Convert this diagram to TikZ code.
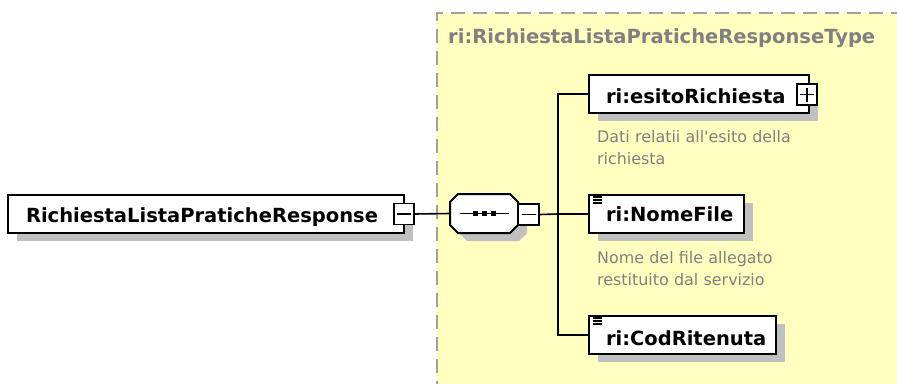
\documentclass[tikz,border=0pt]{standalone}
\usepackage{fontspec}
\setmainfont{DejaVu Sans}
\newfontfamily\descfont{DejaVu Sans}
\usetikzlibrary{shadows}
\definecolor{ylw}{HTML}{FFFFC0}
\definecolor{shd}{HTML}{C0C0C0}
\definecolor{dgray}{HTML}{808080}
\definecolor{bgray}{HTML}{A0A0A0}
\begin{document}
\begin{tikzpicture}[x=1pt,y=-1pt,
  bigfont/.style={font=\bfseries\fontsize{19.5}{23}\selectfont},
  shad/.style={drop shadow={shadow xshift=9pt,shadow yshift=-8pt,fill=shd,opacity=1}},
  elem/.style={draw,line width=2pt,fill=white,anchor=north west,inner ysep=0pt,
    inner xsep=17pt,align=left,bigfont,shad},
  pm/.style={draw,line width=1.6pt,fill=white,minimum width=20pt,minimum height=21pt,inner sep=0pt},
  conn/.style={line width=1.6pt,black},
  desc/.style={anchor=base west,inner sep=0pt,text=dgray,font=\descfont\fontsize{15.9}{22}\selectfont,
    text width=260pt,align=left},
  icon/.style={line width=1.2pt,black}
]
\useasboundingbox (0,0) rectangle (897,383);
\fill[white] (0,0) rectangle (897,383);
% type region
\fill[ylw] (437,13) rectangle (905,395);
\draw[bgray,line width=2pt,dash pattern=on 14pt off 8pt] (437,395) -- (437,13) -- (905,13);
\node[anchor=base west,inner sep=0pt,text=dgray,bigfont] (title) at (448,43) {ri:RichiestaListaPraticheResponseType};

% root element
\node[elem,inner xsep=18pt,text width=360pt,text height=27pt,text depth=11pt] (root) at (7,194) {\mbox{RichiestaListaPraticheResponse}};
\node[pm] (rootm) at (404,214) {};
\draw[conn] ([xshift=-7pt]rootm.center) -- ([xshift=7pt]rootm.center);

% sequence compositor
\node[minimum width=68pt,minimum height=39pt,inner sep=0pt] (seq) at (484,213.5) {};
\fill[shd] (467,202) -- (519,202) -- (527,210) -- (527,233) -- (519,241) -- (467,241) -- (459,233) -- (459,210) -- cycle;
\filldraw[fill=white,draw=black,line width=2pt] (458,194) -- (510,194) -- (518,202) -- (518,225) -- (510,233) -- (458,233) -- (450,225) -- (450,202) -- cycle;
\draw[conn] ([xshift=-24pt]seq.center) -- ([xshift=25pt]seq.center);
\foreach \dx in {-9,0,9}
  \fill ([xshift=\dx pt]seq.center) +(-2.5,-2.5) rectangle +(2.5,2.5);
\node[pm,minimum width=21pt] (seqm) at (528.5,214.5) {};
\draw[conn] ([xshift=-7pt]seqm.center) -- ([xshift=7pt]seqm.center);

\coordinate (bus) at (558,214);

% children
\node[elem,text width=186pt,text height=28pt,text depth=10pt] (esito) at (588,74) {\mbox{ri:esitoRichiesta}};
\node[pm] (esitop) at (807,94.5) {};
\draw[conn] ([xshift=-7pt]esitop.center) -- ([xshift=7pt]esitop.center);
\draw[conn] ([yshift=-7pt]esitop.center) -- ([yshift=7pt]esitop.center);
\node[desc] (d1) at (597,142) {Dati relatii all'esito della\\richiesta};

\node[elem,text width=121pt,text height=26pt,text depth=12pt] (nome) at (588,194) {\mbox{ri:NomeFile}};
\foreach \dy in {3,6,9}
  \draw[icon] ([xshift=5pt,yshift=-\dy pt]nome.north west) -- ++(9,0);
\node[desc] (d2) at (597,263) {Nome del file allegato\\restituito dal servizio};

\node[elem,text width=153pt,text height=29pt,text depth=9pt] (cod) at (588,315) {\mbox{ri:CodRitenuta}};
\foreach \dy in {3,6,9}
  \draw[icon] ([xshift=5pt,yshift=-\dy pt]cod.north west) -- ++(9,0);

% connectors
\draw[conn] (rootm.east) -- (seq.west);
\draw[conn] (seqm.east) -- (bus);
\draw[conn] (bus) |- (esito.west);
\draw[conn] (bus) |- (nome.west);
\draw[conn] (bus) |- (cod.west);
\end{tikzpicture}
\end{document}
